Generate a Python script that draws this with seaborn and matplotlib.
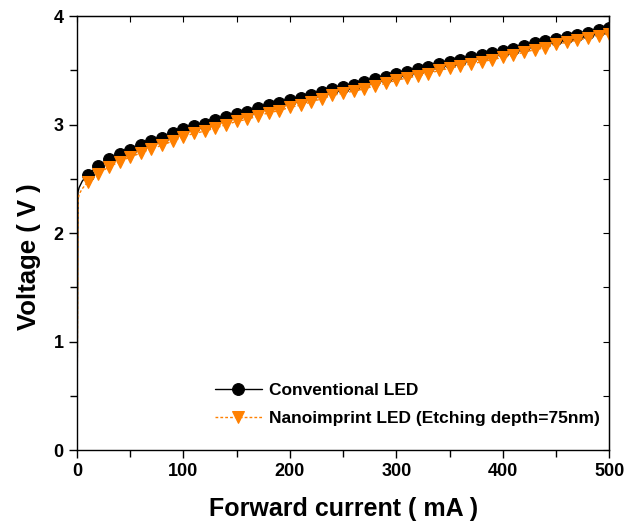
import numpy as np
import pandas as pd
import seaborn as sns
import matplotlib.pyplot as plt
from matplotlib.ticker import MultipleLocator

# Forward current (mA): start-up points, then every 10 mA
current = [0, 1, 2, 5] + list(range(10, 501, 10))

conventional = [0.0, 2.38, 2.42, 2.48,
                2.54, 2.62, 2.68, 2.73, 2.77, 2.81, 2.85, 2.88, 2.92, 2.96,
                2.99, 3.01, 3.04, 3.07, 3.10, 3.12, 3.15, 3.18, 3.20, 3.23,
                3.25, 3.27, 3.30, 3.33, 3.35, 3.37, 3.39, 3.42, 3.44, 3.47,
                3.49, 3.51, 3.53, 3.56, 3.58, 3.60, 3.62, 3.64, 3.66, 3.68,
                3.70, 3.73, 3.75, 3.77, 3.79, 3.81, 3.83, 3.85, 3.87, 3.89]

nanoimprint = [0.0, 2.30, 2.36, 2.41,
               2.47, 2.55, 2.61, 2.66, 2.70, 2.74, 2.78, 2.81, 2.85, 2.89,
               2.92, 2.94, 2.97, 3.00, 3.03, 3.05, 3.08, 3.11, 3.13, 3.16,
               3.18, 3.21, 3.24, 3.27, 3.29, 3.31, 3.33, 3.36, 3.38, 3.41,
               3.43, 3.45, 3.47, 3.50, 3.52, 3.54, 3.56, 3.58, 3.60, 3.62,
               3.64, 3.67, 3.69, 3.71, 3.74, 3.76, 3.78, 3.80, 3.82, 3.84]

df = pd.DataFrame({'current': current, 'conv': conventional, 'nano': nanoimprint})
marks = list(range(4, len(current)))

sns.set_style("ticks")
plt.rcParams['font.family'] = ['Liberation Sans', 'DejaVu Sans']
plt.rcParams['font.weight'] = 'bold'
plt.rcParams['text.color'] = 'black'
plt.rcParams['xtick.color'] = 'black'
plt.rcParams['ytick.color'] = 'black'
plt.rcParams['axes.labelcolor'] = 'black'

fig = plt.figure(figsize=(6.36, 5.24), dpi=100)
ax = fig.add_axes([0.121, 0.141, 0.837, 0.828])

sns.lineplot(data=df, x='current', y='conv', ax=ax, color='black', lw=1,
             marker='o', markersize=8.5, markevery=marks, markeredgecolor='black',
             label='Conventional LED')
sns.lineplot(data=df, x='current', y='nano', ax=ax, color='#FF8000', lw=1,
             linestyle=(0, (2, 1.5)), marker='v', markersize=9, markevery=marks,
             markeredgecolor='#FF8000', label='Nanoimprint LED (Etching depth=75nm)')

ax.set_xlim(0, 500)
ax.set_ylim(0, 4)
ax.xaxis.set_major_locator(MultipleLocator(100))
ax.xaxis.set_minor_locator(MultipleLocator(50))
ax.yaxis.set_major_locator(MultipleLocator(1))
ax.yaxis.set_minor_locator(MultipleLocator(0.5))
ax.tick_params(which='both', direction='out', width=1, labelsize=13,
               top=False, right=False, color='black', labelcolor='black')
ax.tick_params(which='major', length=6)
ax.tick_params(which='minor', length=5)
for lbl in ax.get_xticklabels() + ax.get_yticklabels():
    lbl.set_fontweight('bold')

# inward ticks on top and right
ax2 = ax.secondary_xaxis('top')
ax2.xaxis.set_major_locator(MultipleLocator(50))
ax2.tick_params(direction='in', length=4, labeltop=False)
ax3 = ax.secondary_yaxis('right')
ax3.yaxis.set_major_locator(MultipleLocator(0.5))
ax3.tick_params(direction='in', length=4, labelright=False)

for sp in ax.spines.values():
    sp.set_linewidth(1)
    sp.set_color('black')

ax.set_xlabel('Forward current ( mA )', fontsize=18, fontweight='bold', labelpad=12)
ax.set_ylabel('Voltage ( V )', fontsize=18.5, fontweight='bold')
ax.yaxis.set_label_coords(-0.068, 0.445)

leg = ax.legend(loc='lower right', bbox_to_anchor=(1.011, 0.02), frameon=False,
                fontsize=12.5, handlelength=2.7, handletextpad=0.4, labelspacing=0.75)
for t in leg.get_texts():
    t.set_fontweight('bold')
    t.set_color('black')

fig.savefig('out.png', dpi=100)
